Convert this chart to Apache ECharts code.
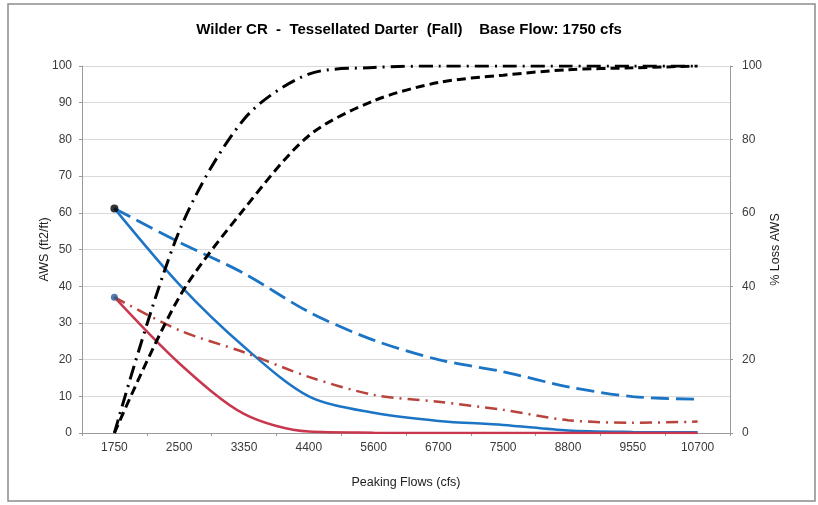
<!DOCTYPE html>
<html>
<head>
<meta charset="utf-8">
<script src="https://cdn.jsdelivr.net/npm/echarts@6/dist/echarts.min.js"></script>
<style>html,body{margin:0;padding:0;background:#fff}#c{width:818px;height:505px}</style>
</head>
<body>
<div id="c"></div>
<script>
var categories = ['1750','2500','3350','4400','5600','6700','7500','8800','9550','10700'];
var awsA = [61.2, 40.5, 23.5, 10, 5.5, 3.3, 2.2, 0.7, 0.3, 0.2];
var awsB = [61.2, 52, 43.5, 33, 25.3, 20, 16.7, 12.6, 9.9, 9.2];
var awsC = [37, 19, 5.2, 0.4, 0.1, 0, 0, 0, 0, 0];
var awsD = [37, 28, 22, 15.3, 10.4, 8.5, 6.3, 3.5, 2.8, 3.1];
var lossA = [0, 37, 61, 81, 90.5, 95.5, 97.5, 99, 99.5, 100];
var lossB = [0, 55, 85.5, 97.8, 99.6, 100, 100, 100, 100, 100];
var leftTicks = [0, 100, 10];
var rightTicks = [0, 100, 20];

var chart = echarts.init(document.getElementById('c'), null, {renderer: 'canvas'});
var lblColor = '#3a3a3a';
var font = 'Liberation Sans, Arial, sans-serif';
var sm = 0.3;
chart.setOption({
  backgroundColor: '#ffffff',
  animation: false,
  title: {
    text: 'Wilder CR  -  Tessellated Darter  (Fall)    Base Flow: 1750 cfs',
    left: 'center', top: 17,
    textStyle: {fontFamily: font, fontSize: 15, fontWeight: 'bold', color: '#000'}
  },
  graphic: [{
    type: 'rect', shape: {x: 8, y: 4, width: 807, height: 497},
    style: {fill: 'none', stroke: '#8c8c8c', lineWidth: 1.5}, silent: true, z: -1
  }],
  grid: {left: 82, right: 88, top: 66, bottom: 72, containLabel: false},
  xAxis: {
    type: 'category', data: categories, boundaryGap: true,
    name: 'Peaking Flows (cfs)', nameLocation: 'middle', nameGap: 43,
    nameTextStyle: {fontFamily: font, fontSize: 12.5, color: '#222'},
    axisLine: {lineStyle: {color: '#9a9a9a', width: 1}},
    axisTick: {show: true, length: 3, lineStyle: {color: '#9a9a9a'}},
    axisLabel: {fontFamily: font, fontSize: 12, color: lblColor, margin: 9},
    splitLine: {show: false}
  },
  yAxis: [{
    type: 'value', min: leftTicks[0], max: leftTicks[1], interval: leftTicks[2],
    name: 'AWS (ft2/ft)', nameLocation: 'middle', nameGap: 31, nameRotate: 90, nameMoveOverlap: false,
    nameTextStyle: {fontFamily: font, fontSize: 12.5, color: '#222'},
    axisLine: {show: true, lineStyle: {color: '#9a9a9a'}},
    axisTick: {show: true, length: 3, lineStyle: {color: '#9a9a9a'}},
    axisLabel: {fontFamily: font, fontSize: 12, color: lblColor, margin: 10},
    splitLine: {show: true, lineStyle: {color: '#d9d9d9', width: 1}}
  }, {
    type: 'value', min: rightTicks[0], max: rightTicks[1], interval: rightTicks[2],
    position: 'right',
    name: '% Loss AWS', nameLocation: 'middle', nameGap: 39, nameRotate: 90, nameMoveOverlap: false,
    nameTextStyle: {fontFamily: font, fontSize: 12.5, color: '#222'},
    axisLine: {show: true, lineStyle: {color: '#9a9a9a'}},
    axisTick: {show: true, length: 3, lineStyle: {color: '#9a9a9a'}},
    axisLabel: {fontFamily: font, fontSize: 12, color: lblColor, margin: 12},
    splitLine: {show: false}
  }],
  series: [
    {type: 'line', name: 'AWS A', data: awsA, yAxisIndex: 0, smooth: sm, symbol: 'none',
     lineStyle: {color: '#1c74c4', width: 2.5}, z: 3},
    {type: 'line', name: 'AWS B', data: awsB, yAxisIndex: 0, smooth: sm, symbol: 'none',
     lineStyle: {color: '#1c74c4', width: 2.8, type: [18, 7]}, z: 3},
    {type: 'line', name: 'AWS C', data: awsC, yAxisIndex: 0, smooth: sm, symbol: 'none',
     lineStyle: {color: '#c9374f', width: 2.5}, z: 3},
    {type: 'line', name: 'AWS D', data: awsD, yAxisIndex: 0, smooth: sm, symbol: 'none',
     lineStyle: {color: '#b8433c', width: 2.5, type: [12, 6, 2, 6]}, z: 3},
    {type: 'line', name: 'Loss A', data: lossA, yAxisIndex: 1, smooth: sm, symbol: 'none',
     lineStyle: {color: '#000', width: 3, type: [9, 5]}, z: 4},
    {type: 'line', name: 'Loss B', data: lossB, yAxisIndex: 1, smooth: sm, symbol: 'none',
     lineStyle: {color: '#000', width: 3, type: [14, 6, 2, 6]}, z: 4},
    {type: 'scatter', data: [[categories[0], awsB[0]]], yAxisIndex: 0, symbol: 'circle', symbolSize: 8,
     itemStyle: {color: '#000'}, z: 6},
    {type: 'scatter', data: [[categories[0], awsC[0]]], yAxisIndex: 0, symbol: 'circle', symbolSize: 7,
     itemStyle: {color: '#2b5b97'}, z: 6}
  ]
});
</script>
</body>
</html>
